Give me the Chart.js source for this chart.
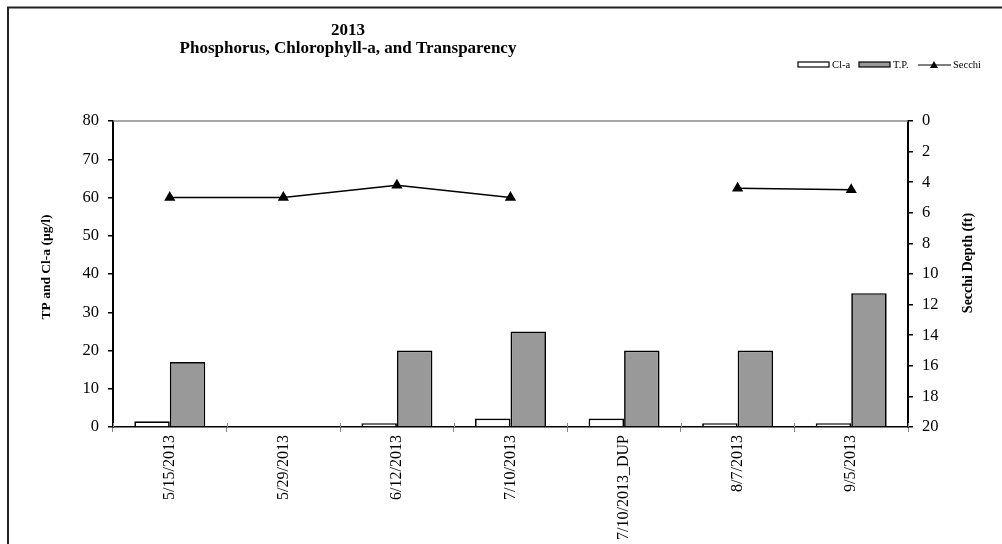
<!DOCTYPE html>
<html>
<head>
<meta charset="utf-8">
<script src="https://cdn.jsdelivr.net/npm/chart.js@4.4.0/dist/chart.umd.min.js"></script>
<style>
  html,body{margin:0;padding:0;background:#fff;}
  #wrap{width:1002px;height:544px;position:relative;}
</style>
</head>
<body>
<div id="wrap"><canvas id="chartCanvas" width="1002" height="544"></canvas></div>
<script>
// data
const sampleDates = ['5/15/2013', '5/29/2013', '6/12/2013', '7/10/2013', '7/10/2013_DUP', '8/7/2013', '9/5/2013'];
const chlA = [1.5, null, 1, 2.2, 2.2, 1, 1];
const totalP = [17, null, 20, 25, 20, 20, 35];
const secchi = [5, 5, 4.2, 5, null, 4.4, 4.5];
const leftTicks = [0, 10, 20, 30, 40, 50, 60, 70, 80];
const rightTicks = [0, 2, 4, 6, 8, 10, 12, 14, 16, 18, 20];

const serif = "'Liberation Serif', 'Times New Roman', serif";

// title, legend, axis titles, frame
const decor = {
    id: 'decor',
    afterDraw(chart) {
        const ctx = chart.ctx;
        const area = chart.chartArea;
        ctx.save();

        // outer frame (top + left only)
        ctx.strokeStyle = '#222';
        ctx.lineWidth = 2;
        ctx.beginPath();
        ctx.moveTo(8, 544);
        ctx.lineTo(8, 7.5);
        ctx.lineTo(1002, 7.5);
        ctx.stroke();

        // plot area top edge
        ctx.strokeStyle = '#888';
        ctx.lineWidth = 1.5;
        ctx.beginPath();
        ctx.moveTo(area.left, area.top);
        ctx.lineTo(area.right, area.top);
        ctx.stroke();

        // x ticks poke a little above the axis too
        const xs = chart.scales.x;
        ctx.strokeStyle = '#888';
        ctx.lineWidth = 1;
        for (let i = 0; i <= sampleDates.length; i++) {
            const px = Math.round(area.left + i * (area.right - area.left) / sampleDates.length) + 0.5;
            ctx.beginPath();
            ctx.moveTo(px, area.bottom - 4);
            ctx.lineTo(px, area.bottom);
            ctx.stroke();
        }

        // title
        ctx.fillStyle = '#000';
        ctx.textAlign = 'center';
        ctx.textBaseline = 'middle';
        ctx.font = 'bold 17px ' + serif;
        ctx.fillText('2013', 348, 31);
        ctx.fillText('Phosphorus, Chlorophyll-a, and Transparency', 348, 49);

        // axis titles
        ctx.font = 'bold 13.5px ' + serif;
        ctx.save();
        ctx.translate(47, 267);
        ctx.rotate(-Math.PI / 2);
        ctx.fillText('TP and Cl-a (µg/l)', 0, 0);
        ctx.restore();
        ctx.font = 'bold 14px ' + serif;
        ctx.save();
        ctx.translate(968, 263);
        ctx.rotate(-Math.PI / 2);
        ctx.fillText('Secchi Depth (ft)', 0, 0);
        ctx.restore();

        // legend
        const ly = 65;
        ctx.font = '10.5px ' + serif;
        ctx.textAlign = 'left';
        ctx.lineWidth = 1.2;
        ctx.strokeStyle = '#000';
        ctx.fillStyle = '#fff';
        ctx.fillRect(798, ly - 3, 31, 5);
        ctx.strokeRect(798, ly - 3, 31, 5);
        ctx.fillStyle = '#000';
        ctx.fillText('Cl-a', 832, ly);
        ctx.fillStyle = '#999';
        ctx.fillRect(859, ly - 3, 31, 5);
        ctx.strokeRect(859, ly - 3, 31, 5);
        ctx.fillStyle = '#000';
        ctx.fillText('T.P.', 893, ly);
        ctx.beginPath();
        ctx.moveTo(918, ly);
        ctx.lineTo(951, ly);
        ctx.stroke();
        ctx.beginPath();
        ctx.moveTo(934, ly - 4);
        ctx.lineTo(938, ly + 3);
        ctx.lineTo(930, ly + 3);
        ctx.closePath();
        ctx.fill();
        ctx.fillText('Secchi', 953, ly);

        ctx.restore();
    }
};

const data = {
    labels: sampleDates,
    datasets: [
        {
            type: 'line',
            label: 'Secchi',
            data: secchi,
            yAxisID: 'y2',
            borderColor: '#000',
            borderWidth: 1.5,
            pointStyle: 'triangle',
            pointRadius: 5,
            pointBackgroundColor: '#000',
            pointBorderColor: '#000',
            spanGaps: false,
            order: 0
        },
        {
            label: 'Cl-a',
            data: chlA,
            yAxisID: 'y',
            backgroundColor: '#fff',
            borderColor: '#000',
            borderWidth: 1.7,
            order: 1
        },
        {
            label: 'T.P.',
            data: totalP,
            yAxisID: 'y',
            backgroundColor: '#999',
            borderColor: '#000',
            borderWidth: 1.7,
            order: 1
        }
    ]
};

const config = {
    type: 'bar',
    data: data,
    options: {
        responsive: false,
        animation: false,
        layout: { padding: { top: 121, left: 0, right: 0, bottom: 0 } },
        datasets: {
            bar: { barPercentage: 1, categoryPercentage: 0.625 }
        },
        plugins: {
            legend: { display: false },
            title: { display: false },
            tooltip: { enabled: false }
        },
        scales: {
            x: {
                offset: true,
                grid: { display: true, offset: true, drawOnChartArea: false, drawTicks: true, tickLength: 5, color: '#888', lineWidth: 1 },
                border: { color: '#000', width: 1.5 },
                ticks: { color: '#000', font: { family: serif, size: 16 }, maxRotation: 90, minRotation: 90, padding: 3, autoSkip: false },
                afterFit: s => { s.height = 117; }
            },
            y: {
                position: 'left',
                min: 0,
                max: 80,
                afterBuildTicks: s => { s.ticks = leftTicks.map(v => ({ value: v })); },
                grid: { drawOnChartArea: false, drawTicks: true, tickLength: 5, color: '#000', lineWidth: 1.5 },
                border: { color: '#000', width: 2 },
                ticks: { color: '#000', font: { family: serif, size: 16.5 }, padding: 9 },
                afterFit: s => { s.width = 113; }
            },
            y2: {
                position: 'right',
                min: 0,
                max: 20,
                reverse: true,
                afterBuildTicks: s => { s.ticks = rightTicks.map(v => ({ value: v })); },
                grid: { drawOnChartArea: false, drawTicks: true, tickLength: 5, color: '#000', lineWidth: 1.5 },
                border: { color: '#000', width: 2 },
                ticks: { color: '#000', font: { family: serif, size: 16.5 }, padding: 9 },
                afterFit: s => { s.width = 94; }
            }
        }
    },
    plugins: [decor]
};

const myChart = new Chart(document.getElementById('chartCanvas'), config);
</script>
</body>
</html>
